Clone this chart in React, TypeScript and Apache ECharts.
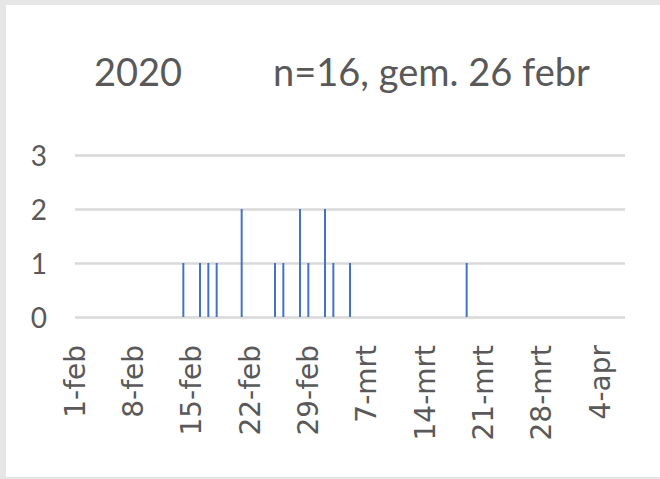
import React, { useEffect, useRef } from "react";
import * as echarts from "echarts";

// Axis categories: one per day, 1 feb .. 7 apr 2020
const months = [
  { name: "feb", days: 29 },
  { name: "mrt", days: 31 },
  { name: "apr", days: 7 },
];
const categories: string[] = [];
months.forEach((m) => {
  for (let d = 1; d <= m.days; d++) categories.push(`${d}-${m.name}`);
});

// Observed events (dates with counts)
const eventDates = [
  "14-feb", "16-feb", "17-feb", "18-feb", "21-feb", "25-feb", "26-feb",
  "28-feb", "29-feb", "2-mrt", "3-mrt", "5-mrt", "19-mrt",
];
const eventCounts = [1, 1, 1, 1, 2, 1, 1, 2, 1, 2, 1, 1, 1];

const yTicks = [0, 1, 2, 3];
const titleYear = "2020";
const titleInfo = "n=16, gem. 26 febr";

const FONT = "Lato, 'Liberation Sans', sans-serif";
const XFONT = "'DejaVu Sans', sans-serif";
const TXT = "#595959";

export default function App() {
  const ref = useRef<HTMLDivElement>(null);
  useEffect(() => {
    document.body.style.margin = "0";
    const chart = echarts.init(ref.current!, undefined, { renderer: "svg" });
    const values = categories.map((c) => {
      const i = eventDates.indexOf(c);
      return i >= 0 ? eventCounts[i] : 0;
    });
    chart.setOption({
      animation: false,
      backgroundColor: "#e6e6e6",
      graphic: [
        {
          type: "rect",
          shape: { x: 6, y: 5, width: 660, height: 472 },
          style: { fill: "#ffffff" },
          z: -10,
          silent: true,
        },
      ],
      title: [
        {
          text: titleYear,
          left: 89,
          top: 47,
          textStyle: { fontFamily: FONT, fontSize: 38, fontWeight: "normal", color: TXT },
        },
        {
          text: titleInfo,
          left: 268,
          top: 47,
          textStyle: { fontFamily: FONT, fontSize: 38, fontWeight: "normal", color: TXT },
        },
      ],
      grid: { left: 75, right: 35, top: 155, bottom: 162 },
      xAxis: {
        type: "category",
        data: categories,
        boundaryGap: false,
        axisLine: { show: false },
        axisTick: { show: false },
        axisLabel: {
          interval: 6,
          rotate: 90,
          margin: 28,
          fontFamily: XFONT,
          fontSize: 28,
          color: TXT,
        },
      },
      yAxis: {
        type: "value",
        min: yTicks[0],
        max: yTicks[yTicks.length - 1],
        interval: 1,
        axisLine: { show: false },
        axisTick: { show: false },
        axisLabel: { margin: 28, fontFamily: FONT, fontSize: 28, color: TXT },
        splitLine: { lineStyle: { color: "#d9d9d9", width: 2.5 } },
      },
      series: [
        {
          type: "bar",
          data: values,
          barWidth: 2,
          itemStyle: { color: "#4472C4" },
        },
      ],
    });
    return () => chart.dispose();
  }, []);
  return (
    <div
      ref={ref}
      style={{ position: "absolute", left: 0, top: 0, width: 660, height: 479 }}
    />
  );
}
